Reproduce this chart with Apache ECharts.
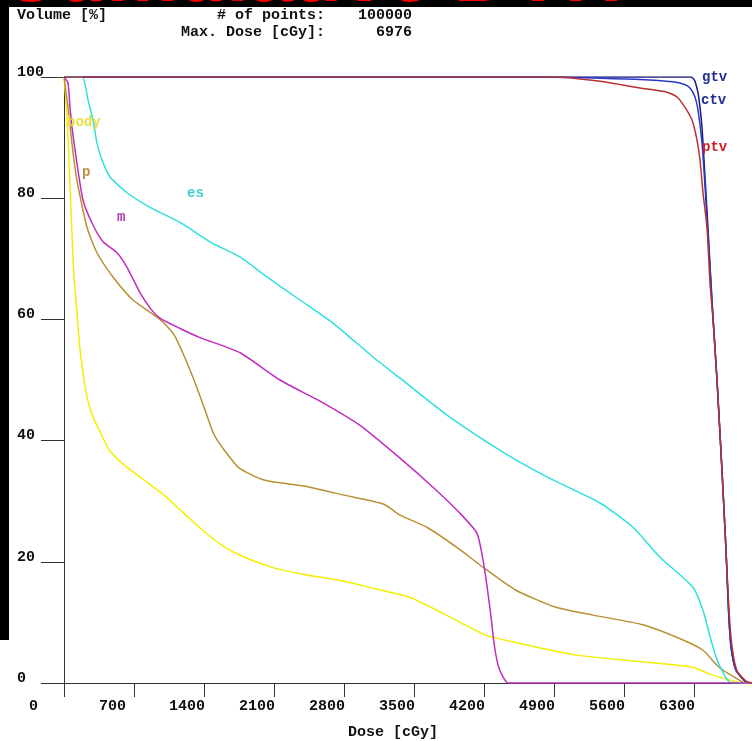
<!DOCTYPE html>
<html><head><meta charset="utf-8">
<script src="https://cdn.jsdelivr.net/npm/echarts@6/dist/echarts.min.js"></script>
<style>html,body{margin:0;padding:0;background:#fff}#c{width:752px;height:741px}</style>
</head><body><div id="c"></div>
<script>
// ---- data (dose in cGy, volume in %) ----
const doseTicks = [0, 700, 1400, 2100, 2800, 3500, 4200, 4900, 5600, 6300];
const volTicks = [0, 20, 40, 60, 80, 100];

const bodyDose = [0, 20, 40, 60, 80, 100, 130, 160, 200, 240, 300, 360, 450, 600, 800, 1000, 1200, 1400, 1600, 1800, 2100, 2400, 2800, 3100, 3450, 3790, 4220, 4620, 5120, 5790, 6290, 6450, 6720, 6800, 6880];
const bodyVol  = [100, 96, 90, 82, 74, 67, 61, 55, 50, 46.5, 43.5, 41.5, 38.5, 36, 33.5, 31, 28, 25, 22.5, 20.8, 19, 17.9, 16.8, 15.6, 14.2, 11.5, 7.9, 6.3, 4.6, 3.5, 2.6, 1.5, 0.2, 0, 0];

const pDose = [0, 40, 80, 110, 140, 230, 330, 490, 690, 960, 1100, 1200, 1300, 1400, 1500, 1600, 1750, 2000, 2400, 2800, 3200, 3360, 3630, 3960, 4190, 4520, 4920, 5290, 5790, 6190, 6390, 6550, 6720, 6820, 6880];
const pVol  = [100, 95, 89, 85, 82, 75.2, 71, 67, 63.2, 60, 57.5, 54, 50, 45.5, 41, 38.5, 35.5, 33.5, 32.5, 31, 29.5, 27.7, 25.7, 22, 19.1, 15.3, 12.5, 11.2, 9.6, 7.1, 5.4, 2.6, 0.8, 0, 0];

const mDose = [0, 40, 60, 80, 110, 140, 190, 280, 390, 530, 630, 760, 860, 960, 1160, 1360, 1760, 2160, 2560, 2960, 3360, 3690, 3960, 4130, 4190, 4230, 4270, 4300, 4340, 4390, 4440, 6880];
const mVol  = [100, 99, 95, 91.7, 88, 84.6, 79.7, 75.9, 72.8, 71, 68.6, 64.4, 61.9, 60.2, 58.5, 57, 54.5, 50, 46.5, 42.5, 37.1, 32.3, 28, 24.7, 20.3, 16, 11, 6.6, 3, 1, 0, 0];

const esDose = [0, 180, 240, 290, 330, 380, 460, 630, 860, 1160, 1460, 1760, 2030, 2360, 2690, 3090, 3360, 3830, 4360, 4830, 5360, 5690, 5890, 5990, 6290, 6390, 6450, 6520, 6590, 6650, 6700, 6880];
const esVol  = [100, 100, 96.2, 92.9, 89.1, 86.3, 83.5, 80.9, 78.5, 76, 72.8, 70.3, 67, 63.2, 59.4, 53.8, 50.3, 44.2, 38.4, 34, 29.7, 25.7, 22, 20.3, 15.8, 12, 8.3, 4.3, 1.7, 0.2, 0, 0];

const gtvDose = [0, 6260, 6290, 6310, 6340, 6360, 6380, 6400, 6440, 6480, 6530, 6580, 6620, 6645, 6670, 6720, 6820, 6900];
const gtvVol  = [100, 100, 99.8, 99.3, 97.4, 95, 91.7, 86.3, 75, 63, 50, 35, 22, 12, 6, 2.1, 0.2, 0];

const ctvDose = [0, 4800, 5360, 5760, 6090, 6200, 6260, 6310, 6340, 6380, 6410, 6440, 6480, 6530, 6580, 6620, 6645, 6670, 6720, 6820, 6900];
const ctvVol  = [100, 100, 99.8, 99.6, 99.2, 98.8, 98.2, 96.7, 94.6, 89.1, 82, 74, 63, 50, 35, 22, 12, 6, 2.1, 0.2, 0];

const ptvDose = [0, 4900, 5360, 5760, 6030, 6130, 6210, 6280, 6330, 6360, 6390, 6430, 6460, 6490, 6530, 6580, 6620, 6650, 6680, 6730, 6830, 6900];
const ptvVol  = [100, 100, 99.3, 98.2, 97.5, 96.7, 95, 92.9, 89.6, 86.3, 80.9, 75.2, 66, 60, 50, 35, 22, 12, 6, 2, 0.2, 0];

const zip = (d, v) => d.map((x, i) => [x, v[i]]);
const mono = '"Liberation Mono", "DejaVu Sans Mono", monospace';
const txt = (x, y, text, color, align, size) => ({
  type: 'text', x: x, y: y, z: 100,
  style: { text: text, fill: color, font: 'bold ' + (size || 15) + 'px ' + mono, align: align || 'left', verticalAlign: 'middle' }
});

function mk(name, d, v, color) {
  return {
    name: name, type: 'line', data: zip(d, v), showSymbol: false, symbol: 'none',
    smooth: 0.2,
    lineStyle: { color: color, width: 1.5 }, itemStyle: { color: color }
  };
}

const chart = echarts.init(document.getElementById('c'), null, { renderer: 'canvas' });
chart.setOption({
  animation: false,
  backgroundColor: '#ffffff',
  grid: { left: 64, right: 0, top: 77, bottom: 58, containLabel: false },
  xAxis: {
    type: 'value', min: 0, max: 6880, interval: 700,
    axisLine: { show: true, lineStyle: { color: '#333', width: 1 } },
    axisTick: { show: true, length: 14, lineStyle: { color: '#333' }, customValues: doseTicks },
    axisLabel: {
      customValues: doseTicks, margin: 16,
      formatter: v => '{a|' + v + '}',
      rich: { a: { width: 70, align: 'left', fontFamily: mono, fontWeight: 'bold', fontSize: 15, color: '#111' } }
    },
    splitLine: { show: false }
  },
  yAxis: {
    type: 'value', min: 0, max: 100, interval: 20,
    axisLine: { show: true, lineStyle: { color: '#333', width: 1 } },
    axisTick: { show: true, length: 23, lineStyle: { color: '#333' }, customValues: volTicks },
    axisLabel: {
      customValues: volTicks, margin: 7,
      formatter: v => '{a|' + v + '}',
      rich: { a: { width: 40, align: 'left', padding: [0, 0, 10, 0], fontFamily: mono, fontWeight: 'bold', fontSize: 15, color: '#111' } }
    },
    splitLine: { show: false }
  },
  graphic: [
    { type: 'rect', shape: { x: 0, y: 0, width: 752, height: 7 }, style: { fill: '#000' }, z: 99 },
    { type: 'rect', shape: { x: 0, y: 0, width: 9, height: 640 }, style: { fill: '#000' }, z: 99 },
    { type: 'text', x: 0, y: -21, z: 100, style: { text: 'Cumulative DVH', fill: '#ff0000', font: 'bold 80px "Liberation Sans", Arial, sans-serif', align: 'left', verticalAlign: 'middle' } },
    txt(17, 15, 'Volume [%]', '#111'),
    txt(325, 15, '# of points:', '#111', 'right'),
    txt(412, 15, '100000', '#111', 'right'),
    txt(325, 32, 'Max. Dose [cGy]:', '#111', 'right'),
    txt(412, 32, '6976', '#111', 'right'),
    txt(348, 732, 'Dose [cGy]', '#111'),
    txt(67, 122, 'body', '#e6e040', 'left', 14),
    txt(82, 172, 'p', '#b89040', 'left', 14),
    txt(117, 217, 'm', '#b040b0', 'left', 14),
    txt(187, 193, 'es', '#40d0d0', 'left', 14),
    txt(702, 77, 'gtv', '#203090', 'left', 14),
    txt(701, 100, 'ctv', '#203090', 'left', 14),
    txt(702, 147, 'ptv', '#d02020', 'left', 14)
  ],
  series: [
    mk('gtv', gtvDose, gtvVol, '#1c1c80'),
    mk('ctv', ctvDose, ctvVol, '#2838c8'),
    mk('body', bodyDose, bodyVol, '#f0f000'),
    mk('p', pDose, pVol, '#b99030'),
    mk('es', esDose, esVol, '#2ee0e0'),
    mk('m', mDose, mVol, '#c02cc0'),
    mk('ptv', ptvDose, ptvVol, '#b83030')
  ]
});
</script></body></html>
